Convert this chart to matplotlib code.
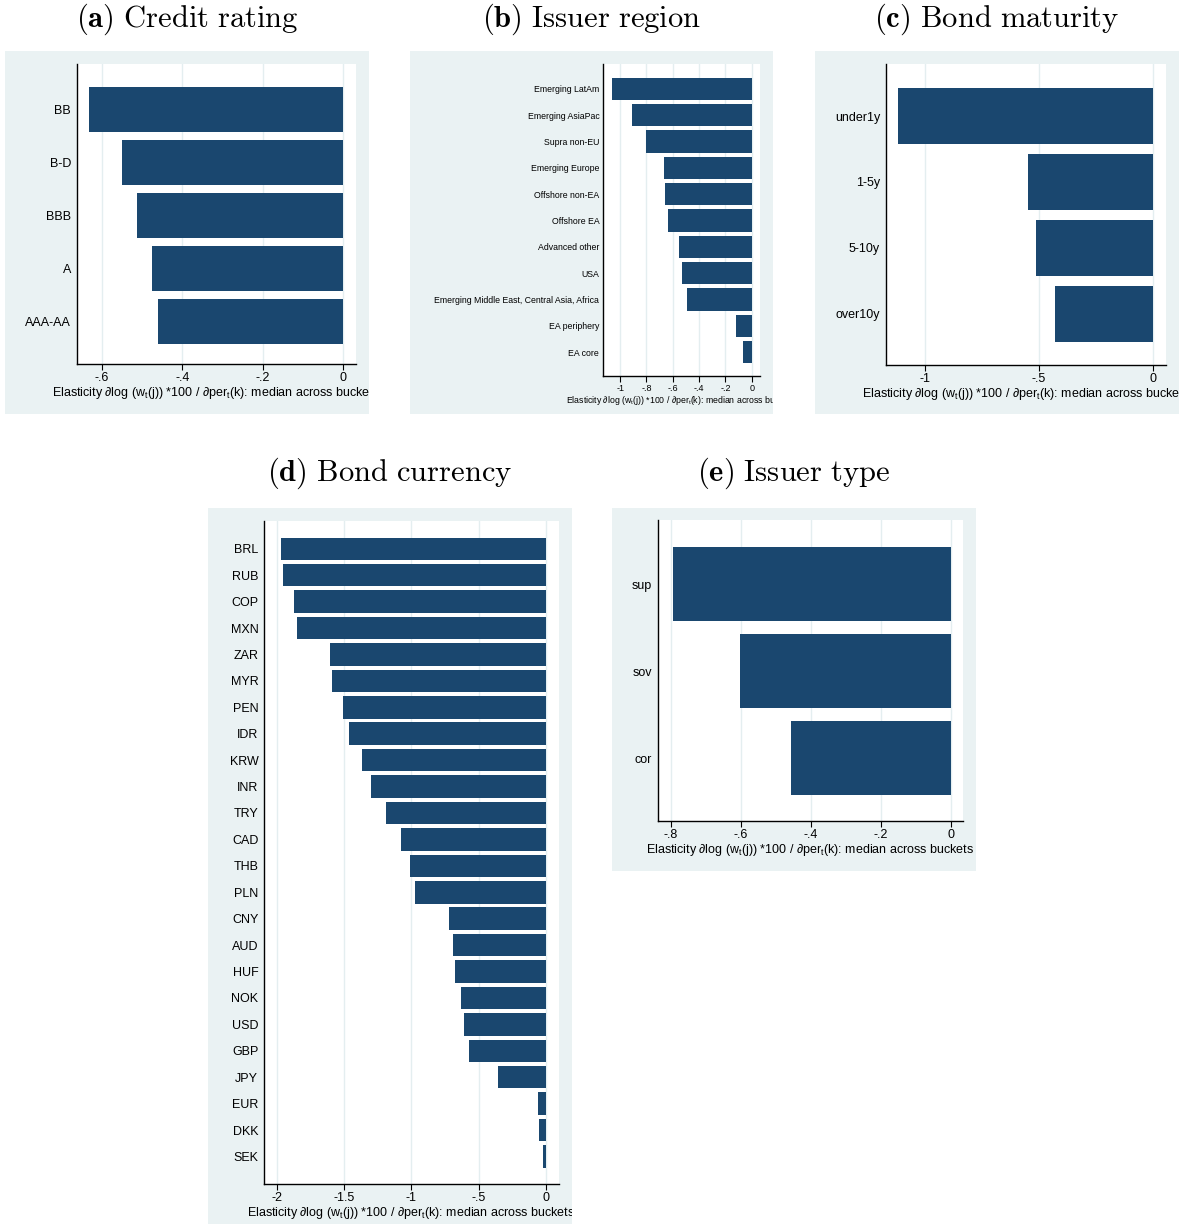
import matplotlib.pyplot as plt
from matplotlib.ticker import FuncFormatter
import numpy as np

plt.rcParams['font.family'] = ['Liberation Sans', 'DejaVu Sans']
plt.rcParams['mathtext.fontset'] = 'custom'
plt.rcParams['mathtext.rm'] = 'Liberation Sans'
plt.rcParams['mathtext.it'] = 'Liberation Sans:italic'
plt.rcParams['mathtext.bf'] = 'Liberation Sans:bold'

# values (median elasticities)
rating_cats = ["BB", "B-D", "BBB", "A", "AAA-AA"]
rating_vals = [-0.631, -0.549, -0.512, -0.475, -0.46]
rating_ticks = [-0.6, -0.4, -0.2, 0]

region_cats = ["Emerging LatAm", "Emerging AsiaPac", "Supra non-EU", "Emerging Europe",
               "Offshore non-EA", "Offshore EA", "Advanced other", "USA",
               "Emerging Middle East, Central Asia, Africa", "EA periphery", "EA core"]
region_vals = [-1.061, -0.909, -0.803, -0.666, -0.656, -0.636, -0.554, -0.532, -0.494, -0.121, -0.068]
region_ticks = [-1, -0.8, -0.6, -0.4, -0.2, 0]

maturity_cats = ["under1y", "1-5y", "5-10y", "over10y"]
maturity_vals = [-1.115, -0.549, -0.511, -0.428]
maturity_ticks = [-1, -0.5, 0]

currency_cats = ["BRL", "RUB", "COP", "MXN", "ZAR", "MYR", "PEN", "IDR", "KRW", "INR", "TRY", "CAD",
                 "THB", "PLN", "CNY", "AUD", "HUF", "NOK", "USD", "GBP", "JPY", "EUR", "DKK", "SEK"]
currency_vals = [-1.967, -1.950, -1.868, -1.852, -1.607, -1.592, -1.51, -1.46, -1.37, -1.303, -1.191,
                 -1.08, -1.013, -0.976, -0.724, -0.693, -0.678, -0.634, -0.611, -0.574, -0.359,
                 -0.062, -0.054, -0.025]
currency_ticks = [-2, -1.5, -1, -0.5, 0]

issuer_cats = ["sup", "sov", "cor"]
issuer_vals = [-0.792, -0.601, -0.456]
issuer_ticks = [-0.8, -0.6, -0.4, -0.2, 0]

XLABEL = r"Elasticity ∂log (w$_\mathrm{t}$(j)) *100 / ∂per$_\mathrm{t}$(k): median across buckets"

W, H = 1182, 1224
BAR = "#1a476f"
BG = "#eaf2f3"
GRID = "#e4eef0"


def stata_fmt(v, pos=None):
    # stata drops the leading zero: -.6 instead of -0.6
    s = "%g" % v
    if s.startswith("-0."):
        s = "-" + s[2:]
    elif s.startswith("0."):
        s = s[1:]
    return s


def px_rect(x0, y0, x1, y1):
    return [x0 / W, 1 - y1 / H, (x1 - x0) / W, (y1 - y0) / H]


def draw_panel(fig, title, cats, vals, ticks, bg_px, plot_px, xlim, margins, fs, tfs, ypad, title_xy):
    bg = fig.add_axes(px_rect(*bg_px))
    bg.set_facecolor(BG)
    bg.set_xticks([])
    bg.set_yticks([])
    for s in bg.spines.values():
        s.set_visible(False)

    ax = fig.add_axes(px_rect(*plot_px))
    y = np.arange(len(cats))
    ax.barh(y, vals, height=0.85, color=BAR, zorder=2)
    ax.set_yticks(y)
    ax.set_yticklabels(cats, fontsize=fs)
    ax.set_ylim(len(cats) - 1 + margins[1], -margins[0])
    ax.set_xlim(*xlim)
    ax.set_xticks(ticks)
    ax.xaxis.set_major_formatter(FuncFormatter(stata_fmt))
    ax.grid(axis='x', color=GRID, lw=1)
    ax.set_axisbelow(True)
    ax.spines['top'].set_visible(False)
    ax.spines['right'].set_visible(False)
    ax.spines['left'].set_linewidth(1.0)
    ax.spines['bottom'].set_linewidth(1.0)
    ax.tick_params(axis='y', length=0, pad=ypad)
    ax.tick_params(axis='x', length=4, width=0.8, labelsize=tfs, pad=1.5)
    # the label runs past the grey box in the original, so clip it there
    lab = ax.set_xlabel(XLABEL, fontsize=fs, labelpad=1)
    lab.set_clip_box(bg.bbox)
    lab.set_clip_on(True)

    fig.text(title_xy[0] / W, 1 - title_xy[1] / H, title, fontsize=22,
             math_fontfamily='cm', ha='center', va='center')


fig = plt.figure(figsize=(W / 100, H / 100), dpi=100)

draw_panel(fig, r"$\mathbf{(a)}\ \mathrm{Credit\ rating}$", rating_cats, rating_vals, rating_ticks,
           (5, 51, 369, 414), (77, 64, 356, 364), (-0.662, 0.032), (0.85, 0.80), 9, 9, 4.3, (187, 19))
draw_panel(fig, r"$\mathbf{(b)}\ \mathrm{Issuer\ region}$", region_cats, region_vals, region_ticks,
           (410, 51, 773, 414), (603, 64, 760, 376), (-1.13, 0.063), (0.94, 0.91), 6.3, 6.5, 2.7, (592, 19))
draw_panel(fig, r"$\mathbf{(c)}\ \mathrm{Bond\ maturity}$", maturity_cats, maturity_vals, maturity_ticks,
           (815, 51, 1179, 414), (886, 64, 1166, 365), (-1.169, 0.057), (0.79, 0.78), 9, 9, 4.3, (997, 19))
draw_panel(fig, r"$\mathbf{(d)}\ \mathrm{Bond\ currency}$", currency_cats, currency_vals, currency_ticks,
           (208, 508, 572, 1224), (264, 521, 559, 1184), (-2.094, 0.0965), (1.05, 1.04), 9, 9, 4.1, (390, 473))
draw_panel(fig, r"$\mathbf{(e)}\ \mathrm{Issuer\ type}$", issuer_cats, issuer_vals, issuer_ticks,
           (612, 508, 976, 871), (658, 520, 963, 821), (-0.836, 0.034), (0.74, 0.72), 9, 9, 4.3, (794, 473))

fig.savefig("out.png", dpi=100)
